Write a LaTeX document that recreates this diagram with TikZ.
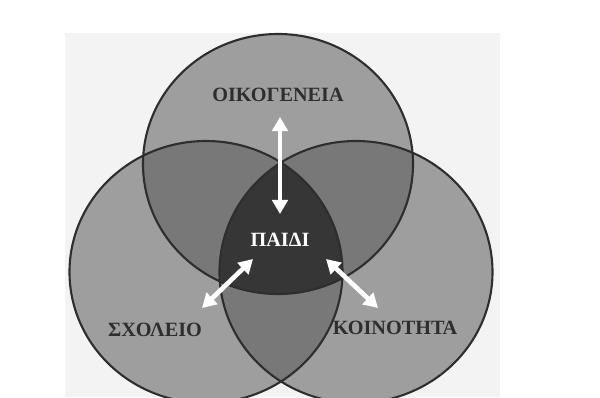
\documentclass[tikz,border=0pt]{standalone}
\usepackage{fontspec}
\setmainfont{Liberation Serif}
\usetikzlibrary{arrows.meta}
\definecolor{paper}{HTML}{F3F3F3}
\definecolor{ringone}{HTML}{9E9E9E}
\definecolor{ringtwo}{HTML}{787878}
\definecolor{ringthree}{HTML}{363636}
\definecolor{rim}{HTML}{2E2E2E}

\begin{document}
\begin{tikzpicture}[x=0.025cm,y=-0.025cm,
    caption/.style={font=\fontsize{14.4}{16}\selectfont\bfseries,text=rim},
    twoway/.style={draw=white,line width=3.3pt,
      {Triangle[width=11pt,length=10pt]}-{Triangle[width=11pt,length=10pt]}}]
  \useasboundingbox (0,0) rectangle (600,397);
  \fill[paper] (65,33) rectangle (500,397);
  \def\topring{(278,164) ellipse [x radius=135,y radius=130]}
  \def\leftring{(206,272) ellipse [x radius=136.5,y radius=131]}
  \def\rightring{(356,272) ellipse [x radius=136.5,y radius=131]}
  % one circle
  \fill[ringone] \topring \leftring \rightring;
  % two circles
  \begin{scope}
    \clip \topring;
    \fill[ringtwo] \leftring \rightring;
  \end{scope}
  \begin{scope}
    \clip \leftring;
    \fill[ringtwo] \rightring;
  \end{scope}
  % all three
  \begin{scope}
    \clip \topring;
    \clip \leftring;
    \fill[ringthree] \rightring;
  \end{scope}
  \draw[rim, line width=1.5pt] \topring \leftring \rightring;

  \node[caption] (family) at (278,95) {ΟΙΚΟΓΕΝΕΙΑ};
  \node[caption, text=white] (child) at (280,240) {ΠΑΙΔΙ};
  \node[caption] (school) at (155,330) {ΣΧΟΛΕΙΟ};
  \node[caption] (community) at (395,328) {ΚΟΙΝΟΤΗΤΑ};

  \coordinate (famend) at (280,117);
  \coordinate (famin) at (280,214);
  \coordinate (schend) at (202,308);
  \coordinate (schin) at (253,259);
  \coordinate (comend) at (378,308);
  \coordinate (comin) at (326,259);
  \draw[twoway] (famend) -- (famin);
  \draw[twoway] (schend) -- (schin);
  \draw[twoway] (comend) -- (comin);
\end{tikzpicture}
\end{document}
